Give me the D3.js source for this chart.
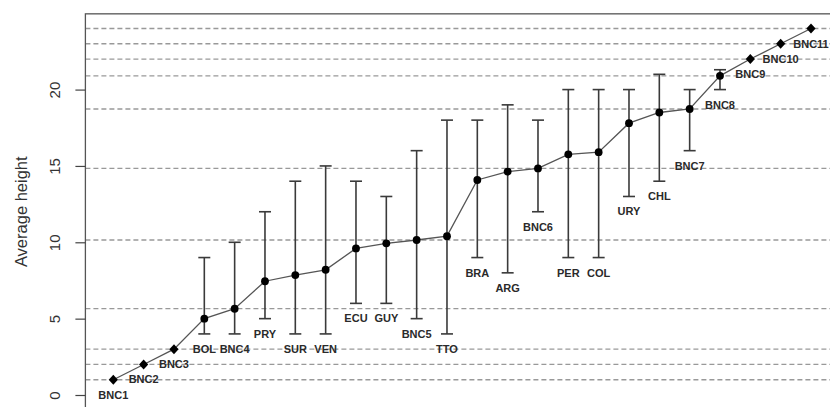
<!DOCTYPE html>
<html><head><meta charset="utf-8">
<script src="https://cdn.jsdelivr.net/npm/d3@7"></script>
<style>body{margin:0;background:#fff}svg{display:block}</style>
</head><body>
<svg id="chart" width="830" height="407"></svg>
<script>
const categories = ["BNC1","BNC2","BNC3","BOL","BNC4","PRY","SUR","VEN","ECU","GUY","BNC5","TTO","BRA","ARG","BNC6","PER","COL","URY","CHL","BNC7","BNC8","BNC9","BNC10","BNC11"];
const means = [1,2,3,5.0,5.65,7.45,7.85,8.2,9.6,9.93,10.15,10.4,14.08,14.63,14.84,15.76,15.9,17.8,18.5,18.73,20.9,22,23,24];
const lower = [null,null,null,4,4,5,4,4,6,6,5,4,9,8,12,9,9,13,14,16,20,null,null,null];
const upper = [null,null,null,9,10,12,14,15,14,13,16,18,18,19,18,20,20,20,21,20,21.3,null,null,null];
const diamondCats = ["BNC1","BNC2","BNC3","BNC9","BNC10","BNC11"];
const yTicks = [0,5,10,15,20];
const yTitle = "Average height";

const svg = d3.select("#chart");
const data = categories.map((c,i)=>({c, i:i+1, m:means[i], lo:lower[i], hi:upper[i]}));

const x = d3.scaleLinear().domain([0.08, 24.92]).range([85.4, 838.9]);
const y = d3.scaleLinear().domain([0, 24]).range([395, 28.5]);
const yTop = y(24.96), yBot = y(-0.96);

// reference dashed lines at BNC values
svg.append("g").selectAll("line").data(data.filter(d=>d.c.startsWith("BNC")))
  .join("line")
  .attr("x1", x(0.08)).attr("x2", x(24.92))
  .attr("y1", d=>y(d.m)).attr("y2", d=>y(d.m))
  .attr("stroke", "#999").attr("stroke-width", 1.3).attr("stroke-dasharray", "5,3");

// connecting line
svg.append("path").datum(data)
  .attr("d", d3.line().x(d=>x(d.i)).y(d=>y(d.m)))
  .attr("fill","none").attr("stroke","#555").attr("stroke-width",1.3);

// error bars
const eb = data.filter(d=>d.lo!==null);
const g = svg.append("g").attr("stroke","#3a3a3a").attr("stroke-width",1.6);
g.selectAll("line.v").data(eb).join("line").attr("class","v")
  .attr("x1",d=>x(d.i)).attr("x2",d=>x(d.i)).attr("y1",d=>y(d.lo)).attr("y2",d=>y(d.hi));
g.selectAll("line.t").data(eb).join("line").attr("class","t")
  .attr("x1",d=>x(d.i)-6).attr("x2",d=>x(d.i)+6).attr("y1",d=>y(d.hi)).attr("y2",d=>y(d.hi));
g.selectAll("line.b").data(eb).join("line").attr("class","b")
  .attr("x1",d=>x(d.i)-6).attr("x2",d=>x(d.i)+6).attr("y1",d=>y(d.lo)).attr("y2",d=>y(d.lo));

// points
svg.append("g").selectAll("path").data(data).join("path")
  .attr("transform", d=>`translate(${x(d.i)},${y(d.m)})`)
  .attr("d", d=> diamondCats.includes(d.c) ? "M0,-5L4.6,0L0,5L-4.6,0Z" : d3.symbol(d3.symbolCircle, 48)())
  .attr("fill","#000");

// labels
svg.append("g").selectAll("text").data(data).join("text")
  .attr("x", d=>x(d.i))
  .attr("y", d=>y(d.lo!==null ? d.lo : d.m) + 19)
  .attr("text-anchor","middle")
  .attr("font-family","Liberation Sans, Arial, sans-serif")
  .attr("font-size", 11).attr("font-weight","bold").attr("fill","#2a2a2a")
  .text(d=>d.c);

// box
svg.append("rect").attr("x", x(0.08)).attr("y", yTop)
  .attr("width", x(24.92)-x(0.08)).attr("height", yBot-yTop)
  .attr("fill","none").attr("stroke","#555").attr("stroke-width",1.3);

// y axis
const ax = svg.append("g").attr("transform",`translate(${x(0.08)},0)`)
  .call(d3.axisLeft(y).tickValues(yTicks).tickSize(10).tickFormat(d3.format("d")));
ax.select(".domain").remove();
ax.selectAll(".tick line").attr("stroke","#444").attr("stroke-width",1.2);
ax.selectAll(".tick text")
  .attr("x",0).attr("y",0).attr("dy",0)
  .attr("text-anchor","middle")
  .attr("font-family","Liberation Sans, Arial, sans-serif")
  .attr("font-size",15).attr("fill","#333")
  .attr("transform","translate(-25,0) rotate(-90)");

svg.append("text")
  .attr("transform",`translate(27,${(yTop+yBot)/2}) rotate(-90)`)
  .attr("text-anchor","middle")
  .attr("font-family","Liberation Sans, Arial, sans-serif")
  .attr("font-size",16.5).attr("fill","#333")
  .text(yTitle);
</script>
</body></html>
